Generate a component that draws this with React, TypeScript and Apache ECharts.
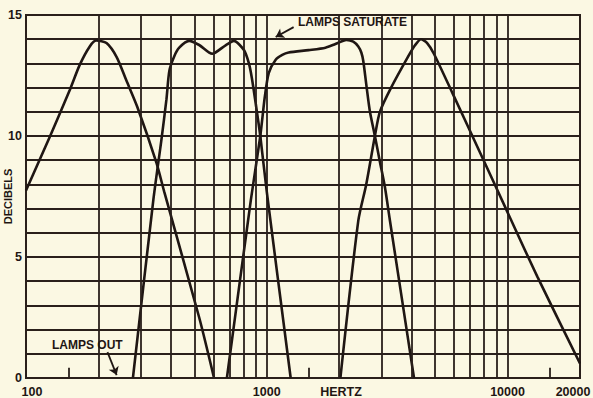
import React, { useEffect, useRef } from "react";
import * as echarts from "echarts";

// ---- data (Hz, dB) ----
const lowFreq = [100, 126, 152, 167, 184, 196, 216, 238, 261, 290, 348, 375, 524, 604];
const lowDb = [7.75, 10, 11.9, 12.93, 13.7, 13.95, 13.84, 13.26, 12.3, 11.2, 8.9, 7.7, 2.5, 0];

const lowMidFreq = [278, 338, 365, 383, 394, 413, 433, 476, 524, 593, 677, 730, 804, 843, 867, 901, 940, 1000, 1257];
const lowMidDb = [0, 7.36, 9.83, 11.5, 12.7, 13.3, 13.65, 13.93, 13.76, 13.4, 13.76, 13.93, 13.55, 13.0, 12.4, 11.3, 10, 7.7, 0];

const highMidFreq = [683, 859, 940, 981, 1019, 1089, 1160, 1233, 1492, 1753, 1928, 2141, 2288, 2400, 2470, 2517, 2597, 2683, 2813, 2950, 3094, 3245, 4089];
const highMidDb = [0, 7.36, 10, 11.6, 12.6, 13.15, 13.35, 13.45, 13.55, 13.65, 13.8, 13.97, 13.9, 13.7, 13.45, 13.1, 12.04, 11.0, 10.0, 8.94, 7.9, 6.53, 0];

const highFreq = [2022, 2400, 2589, 2813, 2950, 3285, 3863, 4128, 4371, 4628, 4945, 5926, 7883, 9811, 13300, 20000];
const highDb = [0, 6.5, 8.0, 10.0, 11.0, 12.0, 13.28, 13.75, 14.0, 13.85, 13.4, 11.74, 9.08, 7.03, 4.19, 0.6];

// vertical grid lines between the decades, and short bottom ticks
const gridFreqs = [200, 300, 400, 500, 600, 700, 800, 900, 2000, 3000, 4000, 5000, 6000, 7000, 8000, 9000];
const tickFreqs = [150, 1500, 15000];

const xMin = 100;
const xMax = 20000;
const yMin = 0;
const yMax = 15;

// annotations: arrow [from, to] in (Hz, dB)
const saturateArrow = [[1293, 14.5], [1089, 14.09]];
const outArrow = [[218, 1.07], [238, 0.12]];
const SATURATE_TEXT = "LAMPS SATURATE";
const OUT_TEXT = "LAMPS OUT";

const BG = "#fbf8e3";
const INK = "#1f1613";
const GRID = "#2a201b";
const FONT = "'Liberation Sans', Arial, sans-serif";

export default function App() {
  const ref = useRef<HTMLDivElement>(null);

  useEffect(() => {
    const chart = echarts.init(ref.current!, null, { renderer: "svg" });
    const zip = (fs: number[], ds: number[]) => fs.map((f, i) => [f, ds[i]]);
    const curve = (name: string, fs: number[], ds: number[]) => ({
      name,
      type: "line",
      data: zip(fs, ds),
      symbol: "none",
      showSymbol: false,
      smooth: 0.25,
      silent: true,
      z: 4,
      lineStyle: { color: INK, width: 2.6 },
    });
    const textStyle = { color: INK, fontFamily: FONT, fontWeight: "bold" as const };

    chart.setOption({
      animation: false,
      backgroundColor: BG,
      grid: {
        left: 26,
        right: 13,
        top: 15,
        bottom: 20,
        containLabel: false,
        outerBoundsMode: "none",
        show: true,
        borderColor: GRID,
        borderWidth: 2,
        backgroundColor: "transparent",
      },
      xAxis: {
        type: "log",
        logBase: 10,
        min: xMin,
        max: xMax,
        axisLine: { show: true, lineStyle: { color: GRID, width: 2 } },
        axisTick: { show: false },
        minorTick: { show: false },
        splitLine: { show: true, lineStyle: { color: GRID, width: 1.8 } },
        axisLabel: {
          ...textStyle,
          fontSize: 12.5,
          margin: 7,
          formatter: (v: number) => {
            const r = Math.round(v);
            if (r === xMin) return "{lo|" + r + "}";
            if (r === xMax) return "{hi|" + r + "}";
            return String(r);
          },
          rich: {
            lo: { ...textStyle, fontSize: 12.5, padding: [0, 0, 0, 12] },
            hi: { ...textStyle, fontSize: 12.5, padding: [0, 14, 0, 0] },
          },
        },
        name: "HERTZ",
        nameLocation: "middle",
        nameGap: 7,
        nameMoveOverlap: false,
        nameTextStyle: { ...textStyle, fontSize: 12.5, padding: [0, 0, 0, 76], verticalAlign: "top" },
      },
      yAxis: {
        type: "value",
        min: yMin,
        max: yMax,
        interval: 1,
        axisLine: { show: true, lineStyle: { color: GRID, width: 2 } },
        axisTick: { show: false },
        splitLine: { show: true, lineStyle: { color: GRID, width: 1.8 } },
        axisLabel: {
          ...textStyle,
          fontSize: 12.5,
          margin: 4,
          formatter: (v: number) => (v % 5 === 0 ? String(v) : ""),
        },
        name: "DECIBELS",
        nameLocation: "middle",
        nameGap: 13,
        nameRotate: 90,
        nameMoveOverlap: false,
        nameTextStyle: { ...textStyle, fontSize: 11, verticalAlign: "bottom" },
      },
      series: [
        {
          name: "grid",
          type: "line",
          data: [],
          z: 2,
          silent: true,
          markLine: {
            silent: true,
            symbol: "none",
            label: { show: false },
            lineStyle: { color: GRID, width: 1.8, type: "solid" },
            data: [
              ...gridFreqs.map((f) => ({ xAxis: f })),
              ...tickFreqs.map((f) => [{ coord: [f, 0] }, { coord: [f, 0.42] }]),
            ],
          },
        },
        curve("low", lowFreq, lowDb),
        curve("low-mid", lowMidFreq, lowMidDb),
        curve("high-mid", highMidFreq, highMidDb),
        curve("high", highFreq, highDb),
        {
          name: "arrows",
          type: "line",
          data: [],
          z: 6,
          silent: true,
          markLine: {
            silent: true,
            symbol: ["none", "arrow"],
            symbolSize: 8,
            label: { show: false },
            lineStyle: { color: INK, width: 1.8, type: "solid" },
            data: [
              [{ coord: saturateArrow[0] }, { coord: saturateArrow[1] }],
              [{ coord: outArrow[0] }, { coord: outArrow[1] }],
            ],
          },
        },
      ],
      graphic: [
        {
          type: "rect",
          z: 3,
          shape: { x: 270, y: 16.5, width: 139, height: 21.5 },
          style: { fill: BG },
          silent: true,
        },
        {
          type: "text",
          z: 7,
          x: 298,
          y: 22,
          style: {
            text: SATURATE_TEXT,
            fill: INK,
            font: "bold 12px " + FONT,
            verticalAlign: "middle",
            align: "left",
          },
        },
        {
          type: "text",
          z: 7,
          x: 52,
          y: 345,
          style: {
            text: OUT_TEXT,
            fill: INK,
            font: "bold 12px " + FONT,
            verticalAlign: "middle",
            align: "left",
          },
        },
      ],
    });
    return () => chart.dispose();
  }, []);

  return (
    <div
      ref={ref}
      style={{ position: "fixed", left: 0, top: 0, width: 593, height: 398, background: BG }}
    />
  );
}
